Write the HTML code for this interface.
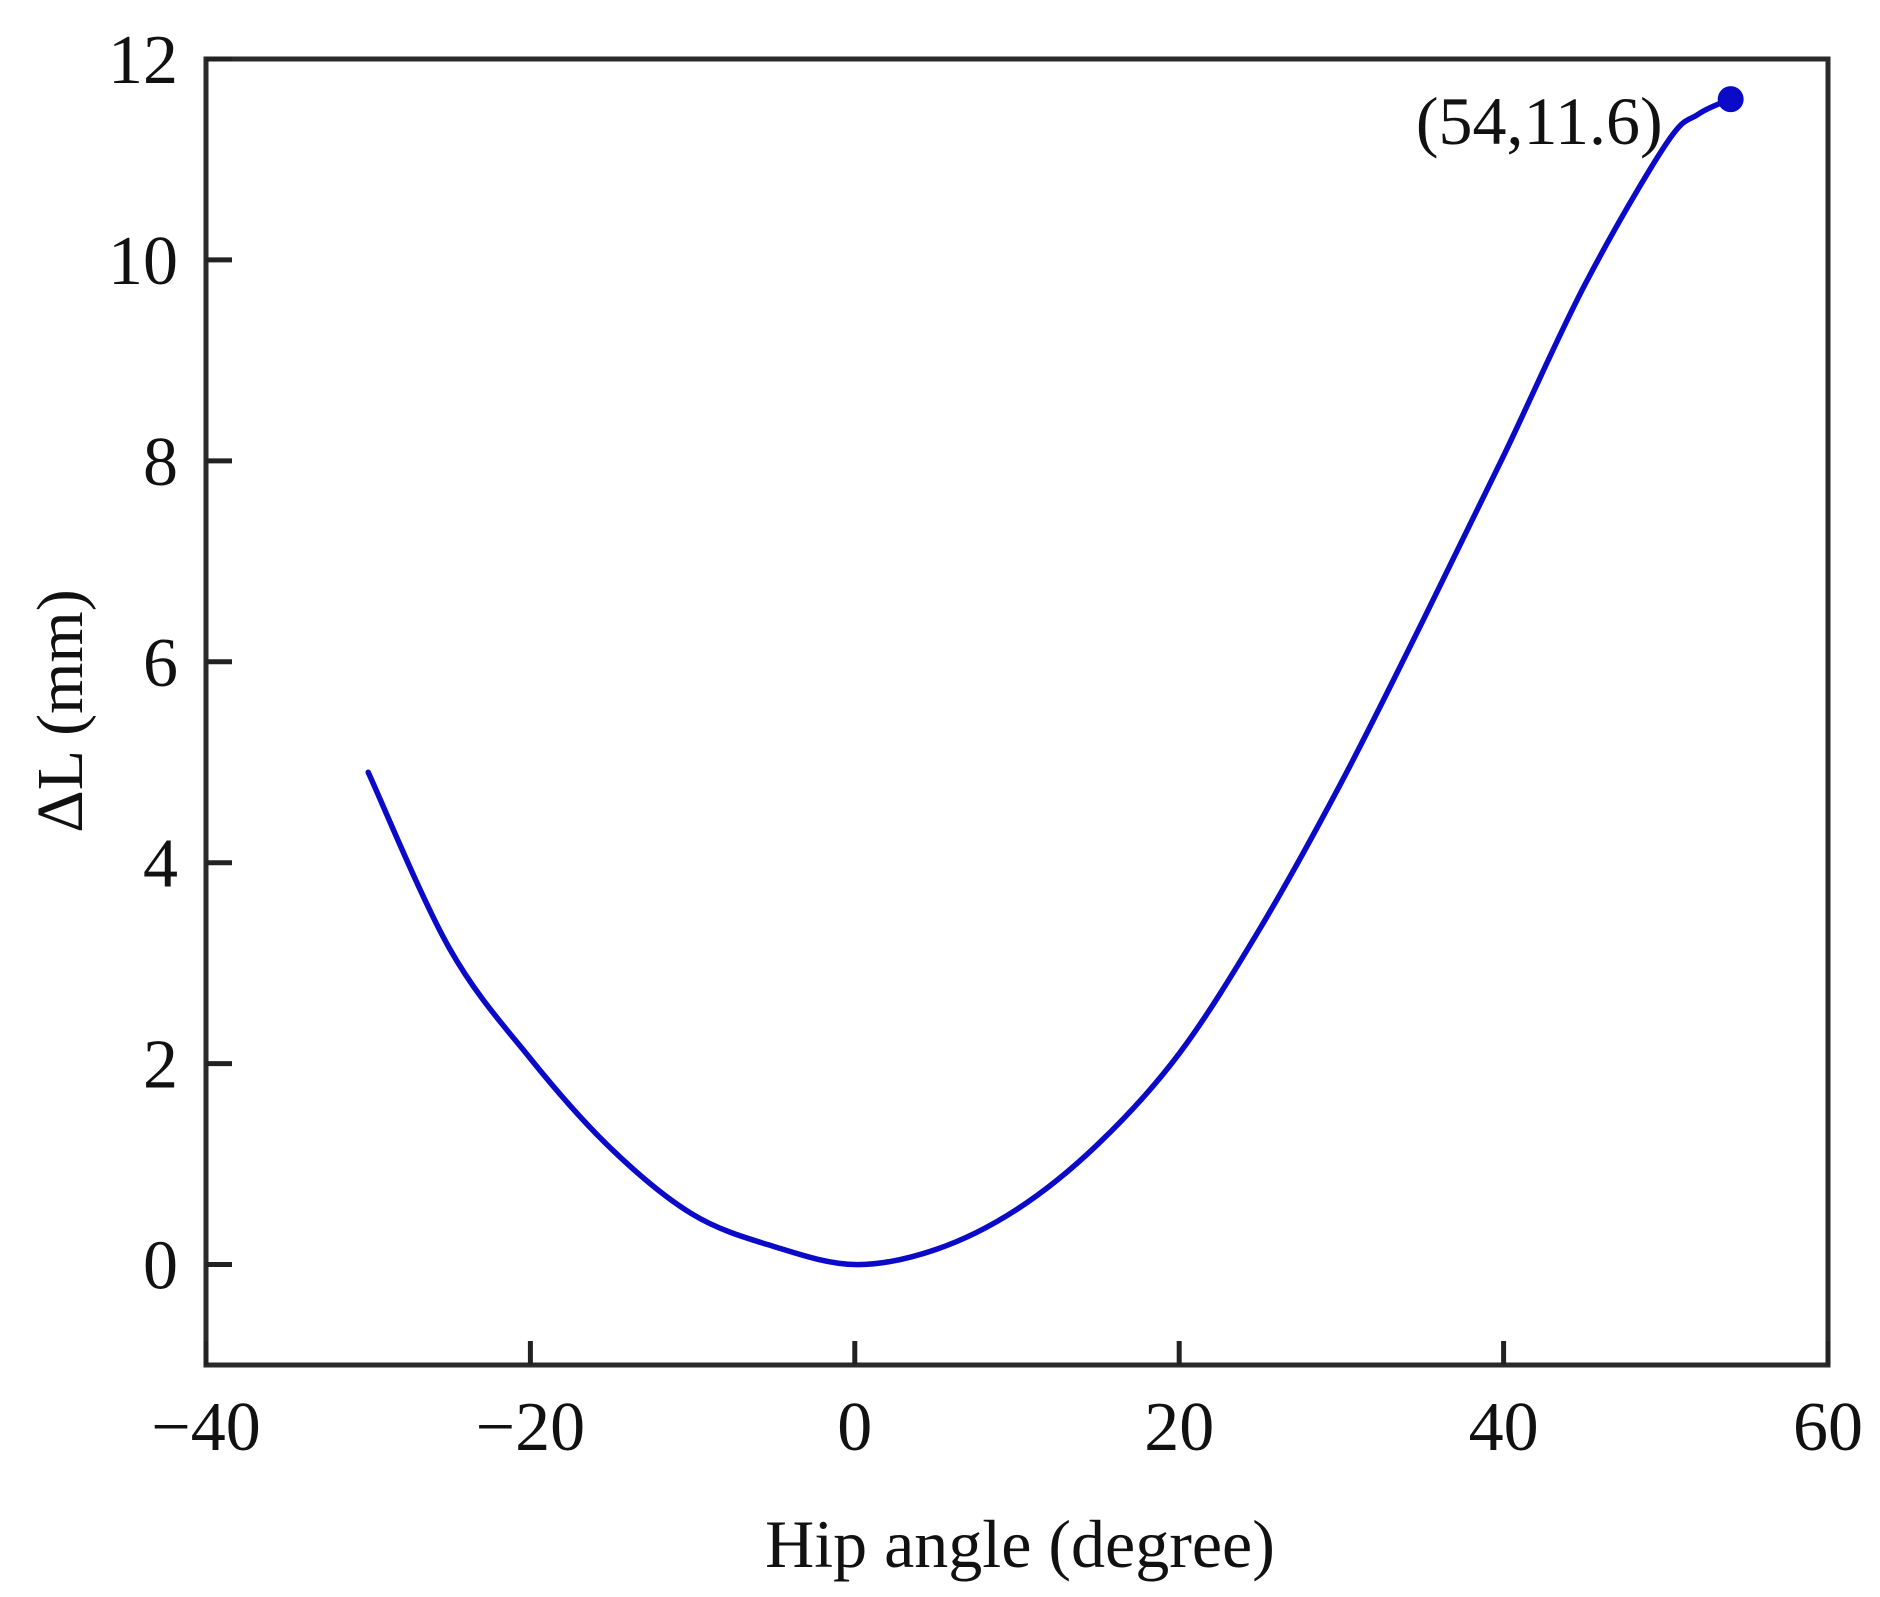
<!DOCTYPE html>
<html><head><meta charset="utf-8"><style>
html,body{margin:0;padding:0;background:#fff;}
svg{display:block;}
text{font-family:"Liberation Serif",serif;fill:#111;}
</style></head><body>
<svg id="chart" width="1880" height="1597" viewBox="0 0 1880 1597">
<g id="axes"></g>
<g id="series"></g>
<text x="1020" y="1567" font-size="68" text-anchor="middle">Hip angle (degree)</text>
<text transform="translate(82,711) rotate(-90)" font-size="66" text-anchor="middle">ΔL (mm)</text>
</svg>
<script>
const xTicks = [-40, -20, 0, 20, 40, 60];
const xTickLabels = ["\u221240", "\u221220", "0", "20", "40", "60"];
const yTicks = [0, 2, 4, 6, 8, 10, 12];
const yTickLabels = ["0", "2", "4", "6", "8", "10", "12"];
const angles = [-30, -25, -20, -15, -10, -5, 0, 5, 10, 15, 20, 25, 30, 35, 40, 45, 50, 52, 54];
const deltaL = [4.9, 3.15, 2.05, 1.15, 0.5, 0.18, 0, 0.15, 0.55, 1.2, 2.1, 3.35, 4.8, 6.4, 8.05, 9.75, 11.15, 11.45, 11.6];
const peakPoint = [54, 11.6];
const peakLabel = "(54,11.6)";

const L=206, R=1828, T=59, B=1365;
const xMin=-40, xMax=60, yMin=-1, yMax=12;
const sx = v => L + (v - xMin) / (xMax - xMin) * (R - L);
const sy = v => B - (v - yMin) / (yMax - yMin) * (B - T);
const NS = "http://www.w3.org/2000/svg";
const axes = document.getElementById('axes');
const series = document.getElementById('series');
function mk(tag, attrs, parent){const e=document.createElementNS(NS,tag);for(const k in attrs)e.setAttribute(k,attrs[k]);parent.appendChild(e);return e;}

const frame = mk('rect',{x:L,y:T,width:R-L,height:B-T,fill:'none',stroke:'#2a2a2a','stroke-width':5},axes);



xTicks.forEach((v,i)=>{
  const t = mk('line',{x1:sx(v),x2:sx(v),y1:B,y2:B-24,stroke:'#222','stroke-width':5},axes);
  
  
  const lb = mk('text',{x:sx(v),y:1450,'font-size':70,'text-anchor':'middle'},axes);
  lb.textContent = xTickLabels[i];
  
  
});
yTicks.forEach((v,i)=>{
  const t = mk('line',{x1:L,x2:L+26,y1:sy(v),y2:sy(v),stroke:'#222','stroke-width':5},axes);
  
  
  const lb = mk('text',{x:178,y:sy(v)+24,'font-size':70,'text-anchor':'end'},axes);
  lb.textContent = yTickLabels[i];
  
  
});

const pts = angles.map((a,i)=>[sx(a), sy(deltaL[i])]);
let d = 'M'+pts[0][0]+','+pts[0][1];
for(let i=0;i<pts.length-1;i++){
  const p0=pts[Math.max(0,i-1)], p1=pts[i], p2=pts[i+1], p3=pts[Math.min(pts.length-1,i+2)];
  const c1=[p1[0]+(p2[0]-p0[0])/6, p1[1]+(p2[1]-p0[1])/6];
  const c2=[p2[0]-(p3[0]-p1[0])/6, p2[1]-(p3[1]-p1[1])/6];
  d+=' C'+c1[0]+','+c1[1]+' '+c2[0]+','+c2[1]+' '+p2[0]+','+p2[1];
}
const line = mk('path',{d:d,fill:'none',stroke:'#0a0ac8','stroke-width':5.5,'stroke-linejoin':'round','stroke-linecap':'round'},series);



const dot = mk('circle',{cx:sx(peakPoint[0]),cy:sy(peakPoint[1]),r:13,fill:'#0a0ac8'},series);


const pl = mk('text',{x:sx(peakPoint[0])-68,y:sy(peakPoint[1])+45,'font-size':68,'text-anchor':'end'},series);
pl.textContent = peakLabel;


</script>
</body></html>
